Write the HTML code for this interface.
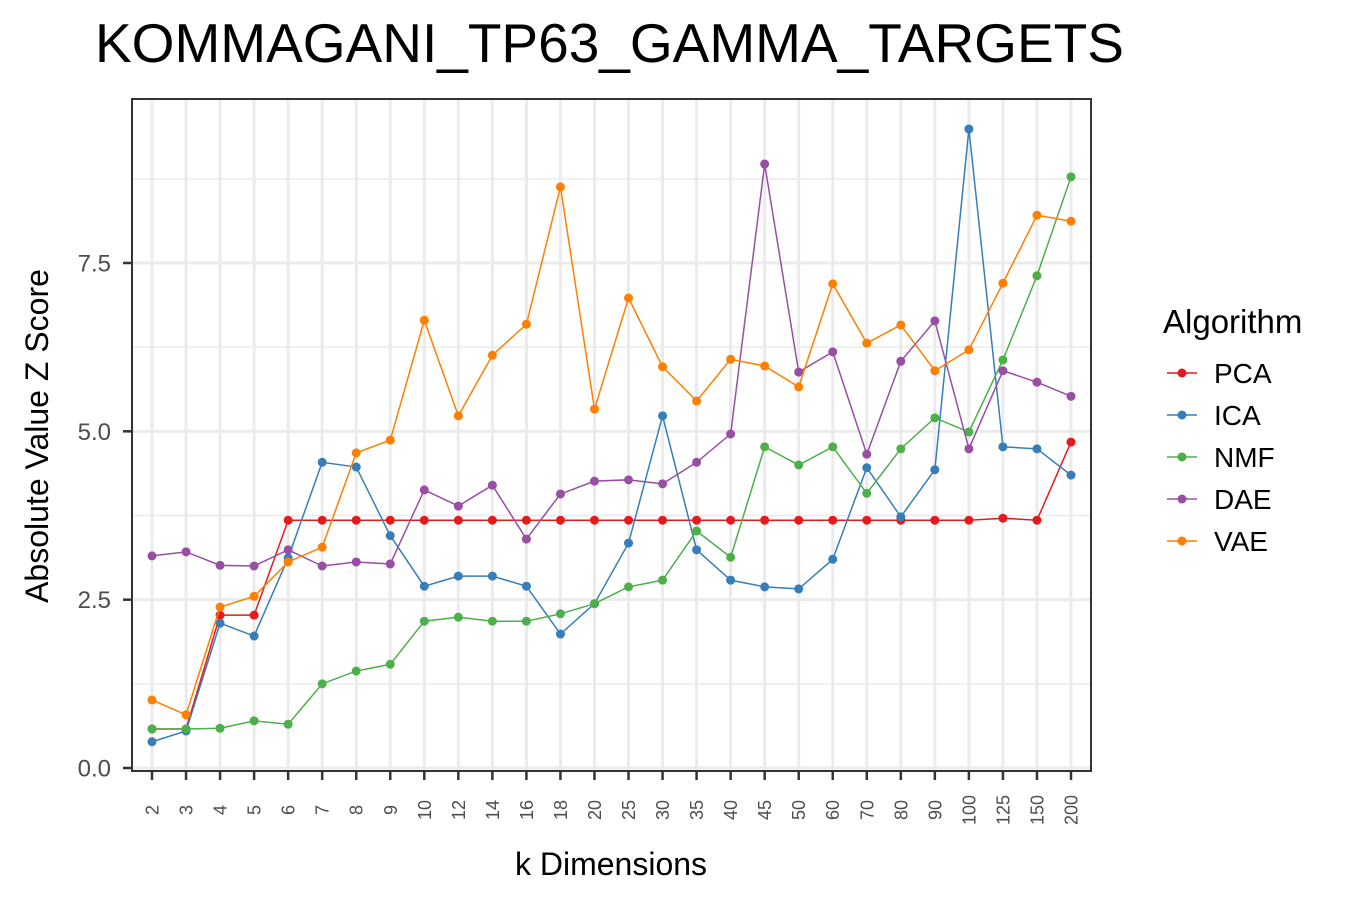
<!DOCTYPE html>
<html><head><meta charset="utf-8"><style>
body{margin:0;background:#fff;}
svg{font-family:"Liberation Sans",Arial,sans-serif;display:block}
</style></head><body>
<svg id="chart" width="1350" height="900"></svg>
<script>
const categories=["2","3","4","5","6","7","8","9","10","12","14","16","18","20","25","30","35","40","45","50","60","70","80","90","100","125","150","200"];
const seriesNames=["PCA","ICA","NMF","DAE","VAE"];
const seriesColors=["#e41a1c","#377eb8","#4daf4a","#984ea3","#ff7f00"];
const pcaValues=[0.58,0.58,2.27,2.27,3.68,3.68,3.68,3.68,3.68,3.68,3.68,3.68,3.68,3.68,3.68,3.68,3.68,3.68,3.68,3.68,3.68,3.68,3.68,3.68,3.68,3.71,3.68,4.84];
const icaValues=[0.39,0.55,2.15,1.96,3.12,4.54,4.47,3.45,2.70,2.85,2.85,2.70,1.99,2.44,3.34,5.23,3.24,2.79,2.69,2.66,3.10,4.46,3.73,4.43,9.49,4.77,4.74,4.35];
const nmfValues=[0.58,0.58,0.59,0.70,0.65,1.25,1.44,1.54,2.18,2.24,2.18,2.18,2.29,2.44,2.69,2.79,3.52,3.13,4.77,4.50,4.77,4.08,4.74,5.20,4.99,6.06,7.31,8.78];
const daeValues=[3.15,3.21,3.01,3.00,3.24,3.00,3.06,3.03,4.13,3.89,4.20,3.40,4.07,4.26,4.28,4.22,4.54,4.96,8.97,5.88,6.18,4.66,6.04,6.64,4.74,5.90,5.73,5.52];
const vaeValues=[1.01,0.79,2.39,2.55,3.06,3.28,4.68,4.87,6.65,5.23,6.13,6.59,8.63,5.33,6.98,5.96,5.45,6.07,5.97,5.66,7.19,6.31,6.58,5.90,6.21,7.20,8.21,8.12];
const yTicks=[0,2.5,5,7.5];
const yTickLabels=["0.0","2.5","5.0","7.5"];
const yMinor=[1.25,3.75,6.25,8.75];

const NS="http://www.w3.org/2000/svg";
const svg=document.getElementById('chart');
function mk(t,a,p){const e=document.createElementNS(NS,t);for(const k in a)e.setAttribute(k,a[k]);(p||svg).appendChild(e);return e;}
const L=132,R=1091,T=99,B=771;
const x=i=>152+i*(1071-152)/(categories.length-1);
const y=v=>768-v*(768-263)/7.5;

let t=mk('text',{x:95,y:62,'font-size':55,fill:'#000'});t.textContent="KOMMAGANI_TP63_GAMMA_TARGETS";


const grid=mk('g',{});
yMinor.forEach(v=>mk('line',{x1:L,x2:R,y1:y(v),y2:y(v),stroke:'#ebebeb','stroke-width':1.5},grid));
yTicks.forEach(v=>mk('line',{x1:L,x2:R,y1:y(v),y2:y(v),stroke:'#ebebeb','stroke-width':3},grid));
categories.forEach((c,i)=>mk('line',{x1:x(i),x2:x(i),y1:T,y2:B,stroke:'#ebebeb','stroke-width':3},grid));

const allVals=[pcaValues,icaValues,nmfValues,daeValues,vaeValues];
allVals.forEach((vals,s)=>{
  const g=mk('g',{});
  
  
  mk('polyline',{points:vals.map((v,i)=>x(i)+','+y(v)).join(' '),fill:'none',stroke:seriesColors[s],'stroke-width':1.5},g);
  vals.forEach((v,i)=>{
    const c=mk('circle',{cx:x(i),cy:y(v),r:4.5,fill:seriesColors[s]},g);
    
    
  });
});

const panel=mk('rect',{x:L,y:T,width:R-L,height:B-T,fill:'none',stroke:'#333','stroke-width':2});


const ya=mk('g',{});
yTicks.forEach((v,i)=>{
  mk('line',{x1:L-9,x2:L,y1:y(v),y2:y(v),stroke:'#333','stroke-width':2.5},ya);
  const tt=mk('text',{x:111,y:y(v)+8.5,'font-size':24,fill:'#4d4d4d','text-anchor':'end'},ya);tt.textContent=yTickLabels[i];
});
const xa=mk('g',{});
categories.forEach((c,i)=>{
  mk('line',{x1:x(i),x2:x(i),y1:B,y2:B+9,stroke:'#333','stroke-width':2.5},xa);
  const tt=mk('text',{x:0,y:0,'font-size':18,fill:'#4d4d4d','text-anchor':'middle',transform:`translate(${x(i)+6.5},810) rotate(-90)`},xa);tt.textContent=c;
});
t=mk('text',{x:611,y:875,'font-size':32,fill:'#000','text-anchor':'middle'});t.textContent="k Dimensions";

t=mk('text',{x:0,y:0,'font-size':32,fill:'#000','text-anchor':'middle',transform:'translate(48,436) rotate(-90)'});t.textContent="Absolute Value Z Score";


const lg=mk('g',{});
t=mk('text',{x:1163,y:333,'font-size':33,fill:'#000'},lg);t.textContent="Algorithm";
seriesNames.forEach((n,i)=>{
  const yy=373+i*42;
  const e=mk('g',{},lg);
  
  
  mk('line',{x1:1167,x2:1197,y1:yy,y2:yy,stroke:seriesColors[i],'stroke-width':1.5},e);
  mk('circle',{cx:1182,cy:yy,r:4.5,fill:seriesColors[i]},e);
  const tt=mk('text',{x:1214,y:yy+10,'font-size':28,fill:'#000'},e);tt.textContent=n;
});
</script>
</body></html>
